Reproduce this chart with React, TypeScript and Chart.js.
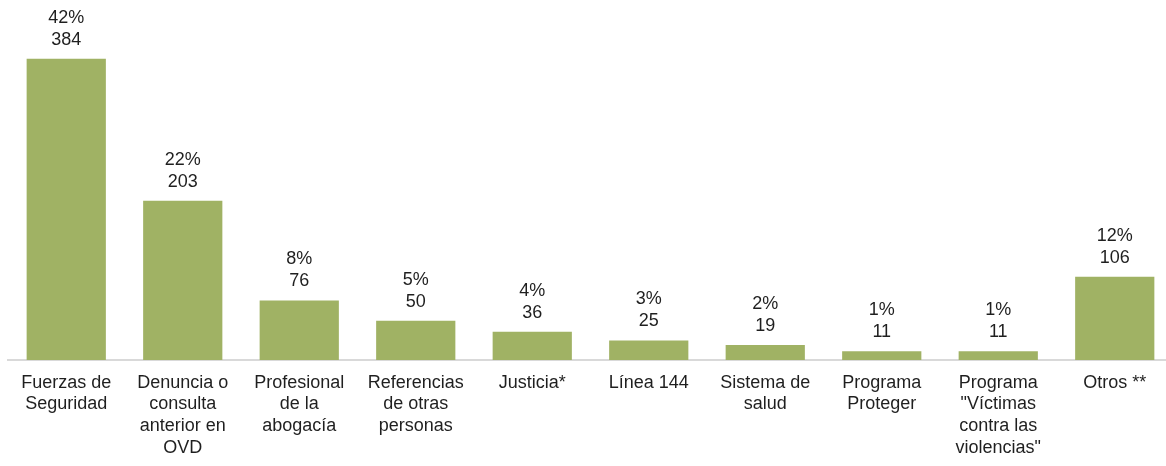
import React, { useEffect, useRef } from "react";
import { Chart, registerables } from "chart.js";

Chart.register(...registerables);

const categories: string[][] = [
  ["Fuerzas de", "Seguridad"],
  ["Denuncia o", "consulta", "anterior en", "OVD"],
  ["Profesional", "de la", "abogacía"],
  ["Referencias", "de otras", "personas"],
  ["Justicia*"],
  ["Línea 144"],
  ["Sistema de", "salud"],
  ["Programa", "Proteger"],
  ["Programa", "\"Víctimas", "contra las", "violencias\""],
  ["Otros **"],
];
const counts: number[] = [384, 203, 76, 50, 36, 25, 19, 11, 11, 106];
const percents: string[] = ["42%", "22%", "8%", "5%", "4%", "3%", "2%", "1%", "1%", "12%"];

const FONT = "'Liberation Sans', Arial, sans-serif";
const TEXT = "#1f1f1f";
const BAR = "#a0b264";

const labelPlugin = {
  id: "twoLineLabels",
  afterDatasetsDraw(chart: any) {
    const ctx = chart.ctx;
    const meta = chart.getDatasetMeta(0);
    ctx.save();
    ctx.font = `18px ${FONT}`;
    ctx.fillStyle = TEXT;
    ctx.textAlign = "center";
    ctx.textBaseline = "alphabetic";
    meta.data.forEach((bar: any, i: number) => {
      ctx.fillText(String(counts[i]), bar.x, bar.y - 14);
      ctx.fillText(percents[i], bar.x, bar.y - 36);
    });
    ctx.restore();
  },
};

export default function App() {
  const ref = useRef<HTMLCanvasElement>(null);
  useEffect(() => {
    if (!ref.current) return;
    const chart = new Chart(ref.current, {
      type: "bar",
      data: {
        labels: categories,
        datasets: [
          {
            data: counts,
            backgroundColor: BAR,
            borderWidth: 0,
            categoryPercentage: 1,
            barPercentage: 0.68,
          },
        ],
      },
      options: {
        responsive: false,
        animation: false,
        layout: { padding: { left: 8, right: 0, top: 0, bottom: 0 } },
        plugins: {
          legend: { display: false },
          tooltip: { enabled: false },
        },
        scales: {
          x: {
            grid: { display: false, drawTicks: false },
            border: { display: true, color: "#d9d9d9", width: 2 },
            ticks: {
              color: TEXT,
              font: { family: FONT, size: 18, lineHeight: 1.2 },
              padding: 12,
              maxRotation: 0,
              autoSkip: false,
            },
            afterFit: (scale: any) => {
              scale.height = 106;
            },
          },
          y: {
            display: false,
            min: 0,
            max: 459,
          },
        },
      },
      plugins: [labelPlugin],
    });
    return () => chart.destroy();
  }, []);
  return (
    <div
      style={{
        position: "absolute",
        left: 0,
        top: 0,
        width: 1166,
        height: 466,
        overflow: "hidden",
        background: "#fff",
      }}
    >
      <canvas ref={ref} width={1173} height={466} style={{ display: "block" }} />
    </div>
  );
}
